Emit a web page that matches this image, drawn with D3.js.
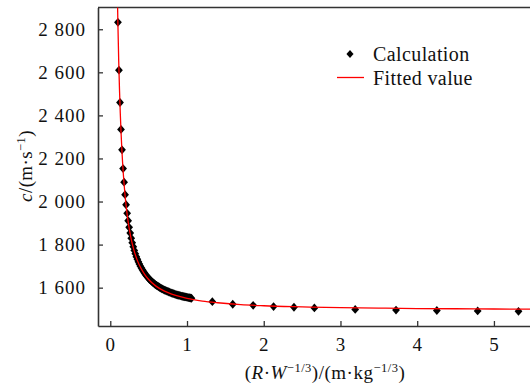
<!DOCTYPE html>
<html>
<head>
<meta charset="utf-8">
<script src="https://cdn.jsdelivr.net/npm/d3@7"></script>
<style>
  body { margin: 0; background: #fff; }
  svg { display: block; }
</style>
</head>
<body>
<svg width="530" height="390"></svg>
<script>
const width = 530;
const height = 390;
const margin = { top: 7.5, right: 0, bottom: 64, left: 98 };
const serif = "Liberation Serif";

// Calculation points (R·W^-1/3, c)
const calcX = [
  0.100, 0.113, 0.127, 0.140, 0.153, 0.167, 0.180, 0.193, 0.206, 0.220,
  0.233, 0.246, 0.260, 0.273, 0.286, 0.300, 0.313, 0.326, 0.339, 0.353,
  0.366, 0.379, 0.393, 0.406, 0.419, 0.433, 0.446, 0.459, 0.472, 0.486,
  0.499, 0.512, 0.526, 0.539, 0.552, 0.566, 0.579, 0.592, 0.605, 0.619,
  0.632, 0.645, 0.659, 0.672, 0.685, 0.699, 0.712, 0.725, 0.738, 0.752,
  0.765, 0.778, 0.792, 0.805, 0.818, 0.832, 0.845, 0.858, 0.871, 0.885,
  0.898, 0.911, 0.925, 0.938, 0.951, 0.965, 0.978, 0.991, 1.004, 1.018,
  1.031, 1.044, 1.058,
  1.330, 1.596, 1.862, 2.128, 2.394, 2.660, 3.192, 3.724, 4.256, 4.788, 5.320
];
const calcC = [
  2832, 2610, 2460, 2335, 2240, 2153, 2090, 2032, 1985, 1945,
  1911, 1880, 1854, 1830, 1809, 1790, 1773, 1758, 1744, 1732,
  1720, 1710, 1700, 1691, 1683, 1675, 1668, 1661, 1655, 1649,
  1644, 1638, 1634, 1629, 1625, 1621, 1617, 1613, 1610, 1607,
  1604, 1601, 1598, 1595, 1593, 1590, 1588, 1586, 1584, 1582,
  1580, 1578, 1576, 1574, 1573, 1571, 1569, 1568, 1566, 1565,
  1564, 1563, 1561, 1560, 1559, 1558, 1557, 1556, 1555, 1554,
  1553, 1552, 1551,
  1535, 1523, 1518, 1512, 1509, 1506, 1499, 1496, 1494, 1492, 1490
];

// Fitted curve
const fitX = [0.095, 0.100, 0.110, 0.120, 0.130, 0.140, 0.150, 0.170, 0.190, 0.210,
  0.240, 0.270, 0.300, 0.350, 0.400, 0.450, 0.500, 0.600, 0.700, 0.800,
  0.900, 1.000, 1.200, 1.400, 1.700, 2.000, 2.500, 3.000, 3.500, 4.000,
  4.500, 5.000, 5.500];
const fitC = [2911, 2815, 2652, 2521, 2413, 2324, 2249, 2129, 2039, 1969,
  1889, 1830, 1785, 1729, 1690, 1661, 1638, 1606, 1585, 1570,
  1559, 1550, 1538, 1530, 1521, 1516, 1511, 1507, 1505, 1503,
  1502, 1501, 1500];

const xTicks = [0, 1, 2, 3, 4, 5];
const yTicks = [1600, 1800, 2000, 2200, 2400, 2600, 2800];

const svg = d3.select("svg");

const x = d3.scaleLinear()
  .domain([-0.16, 5.47])
  .range([margin.left, width - margin.right]);

const y = d3.scaleLinear()
  .domain([1422, 2901])
  .range([height - margin.bottom, margin.top]);

const fmt = v => d3.format(",")(v).replace(",", " ");

svg.append("defs").append("clipPath").attr("id", "plot")
  .append("rect")
  .attr("x", margin.left).attr("y", margin.top)
  .attr("width", width - margin.left - margin.right)
  .attr("height", height - margin.bottom - margin.top);

// Frame (top line + left and bottom axes)
svg.append("line")
  .attr("x1", margin.left).attr("x2", width)
  .attr("y1", margin.top).attr("y2", margin.top)
  .attr("stroke", "#333").attr("stroke-width", 1.6);

const xAxis = svg.append("g")
  .attr("transform", `translate(0,${height - margin.bottom})`)
  .call(d3.axisBottom(x).tickValues(xTicks).tickFormat(d3.format("d"))
    .tickSizeInner(-5).tickSizeOuter(0).tickPadding(12));

const yAxis = svg.append("g")
  .attr("transform", `translate(${margin.left},0)`)
  .call(d3.axisLeft(y).tickValues(yTicks).tickFormat(fmt)
    .tickSizeInner(-5).tickSizeOuter(0).tickPadding(12));

[xAxis, yAxis].forEach(g => {
  g.attr("font-family", serif).attr("font-size", 19);
  g.select(".domain").attr("stroke", "#333").attr("stroke-width", 1.6);
  g.selectAll(".tick line").attr("stroke", "#333").attr("stroke-width", 1.3);
  g.selectAll(".tick text").attr("fill", "#111").style("letter-spacing", "1px");
});

// Diamond marker
const diamond = {
  draw(ctx, size) {
    const w = Math.sqrt(size) * 0.56, h = Math.sqrt(size) * 0.64;
    ctx.moveTo(0, -h); ctx.lineTo(w, 0); ctx.lineTo(0, h); ctx.lineTo(-w, 0); ctx.closePath();
  }
};

const plot = svg.append("g").attr("clip-path", "url(#plot)");

const pts = calcX.map((d, i) => [d, calcC[i]]);
plot.selectAll("path.pt")
  .data(pts)
  .join("path")
  .attr("class", "pt")
  .attr("transform", d => `translate(${x(d[0])},${y(d[1])})`)
  .attr("d", d3.symbol(diamond, 48))
  .attr("fill", "#000");

const fit = fitX.map((d, i) => [d, fitC[i]]);
plot.append("path")
  .datum(fit)
  .attr("fill", "none")
  .attr("stroke", "#ff0000")
  .attr("stroke-width", 1.3)
  .attr("d", d3.line().x(d => x(d[0])).y(d => y(d[1])).curve(d3.curveMonotoneX));

// Legend
const legend = svg.append("g").attr("font-family", serif).attr("font-size", 20)
  .attr("fill", "#111").style("letter-spacing", "0.4px");
legend.append("path")
  .attr("transform", "translate(350,54)")
  .attr("d", d3.symbol(diamond, 40))
  .attr("fill", "#000");
legend.append("text").attr("x", 373).attr("y", 61).text("Calculation");
legend.append("line")
  .attr("x1", 337).attr("x2", 364).attr("y1", 77.5).attr("y2", 77.5)
  .attr("stroke", "#ff0000").attr("stroke-width", 1.3);
legend.append("text").attr("x", 373).attr("y", 84.5).text("Fitted value");

// X axis title
const xt = svg.append("text")
  .attr("x", 325).attr("y", 379)
  .attr("text-anchor", "middle")
  .attr("font-family", serif).attr("font-size", 19).attr("fill", "#111")
  .style("letter-spacing", "0.5px");
xt.append("tspan").text("(");
xt.append("tspan").attr("font-style", "italic").text("R");
xt.append("tspan").text("·");
xt.append("tspan").attr("font-style", "italic").text("W");
xt.append("tspan").attr("font-size", 12.5).attr("dy", -7).text("−1/3");
xt.append("tspan").attr("dy", 7).text(")/(m·kg");
xt.append("tspan").attr("font-size", 12.5).attr("dy", -7).text("−1/3");
xt.append("tspan").attr("dy", 7).text(")");

// Y axis title
const yt = svg.append("text")
  .attr("transform", "translate(32,166) rotate(-90)")
  .attr("text-anchor", "middle")
  .attr("font-family", serif).attr("font-size", 19).attr("fill", "#111")
  .style("letter-spacing", "0.4px");
yt.append("tspan").attr("font-style", "italic").text("c");
yt.append("tspan").text("/(m·s");
yt.append("tspan").attr("font-size", 12.5).attr("dy", -7).text("−1");
yt.append("tspan").attr("dy", 7).text(")");
</script>
</body>
</html>
